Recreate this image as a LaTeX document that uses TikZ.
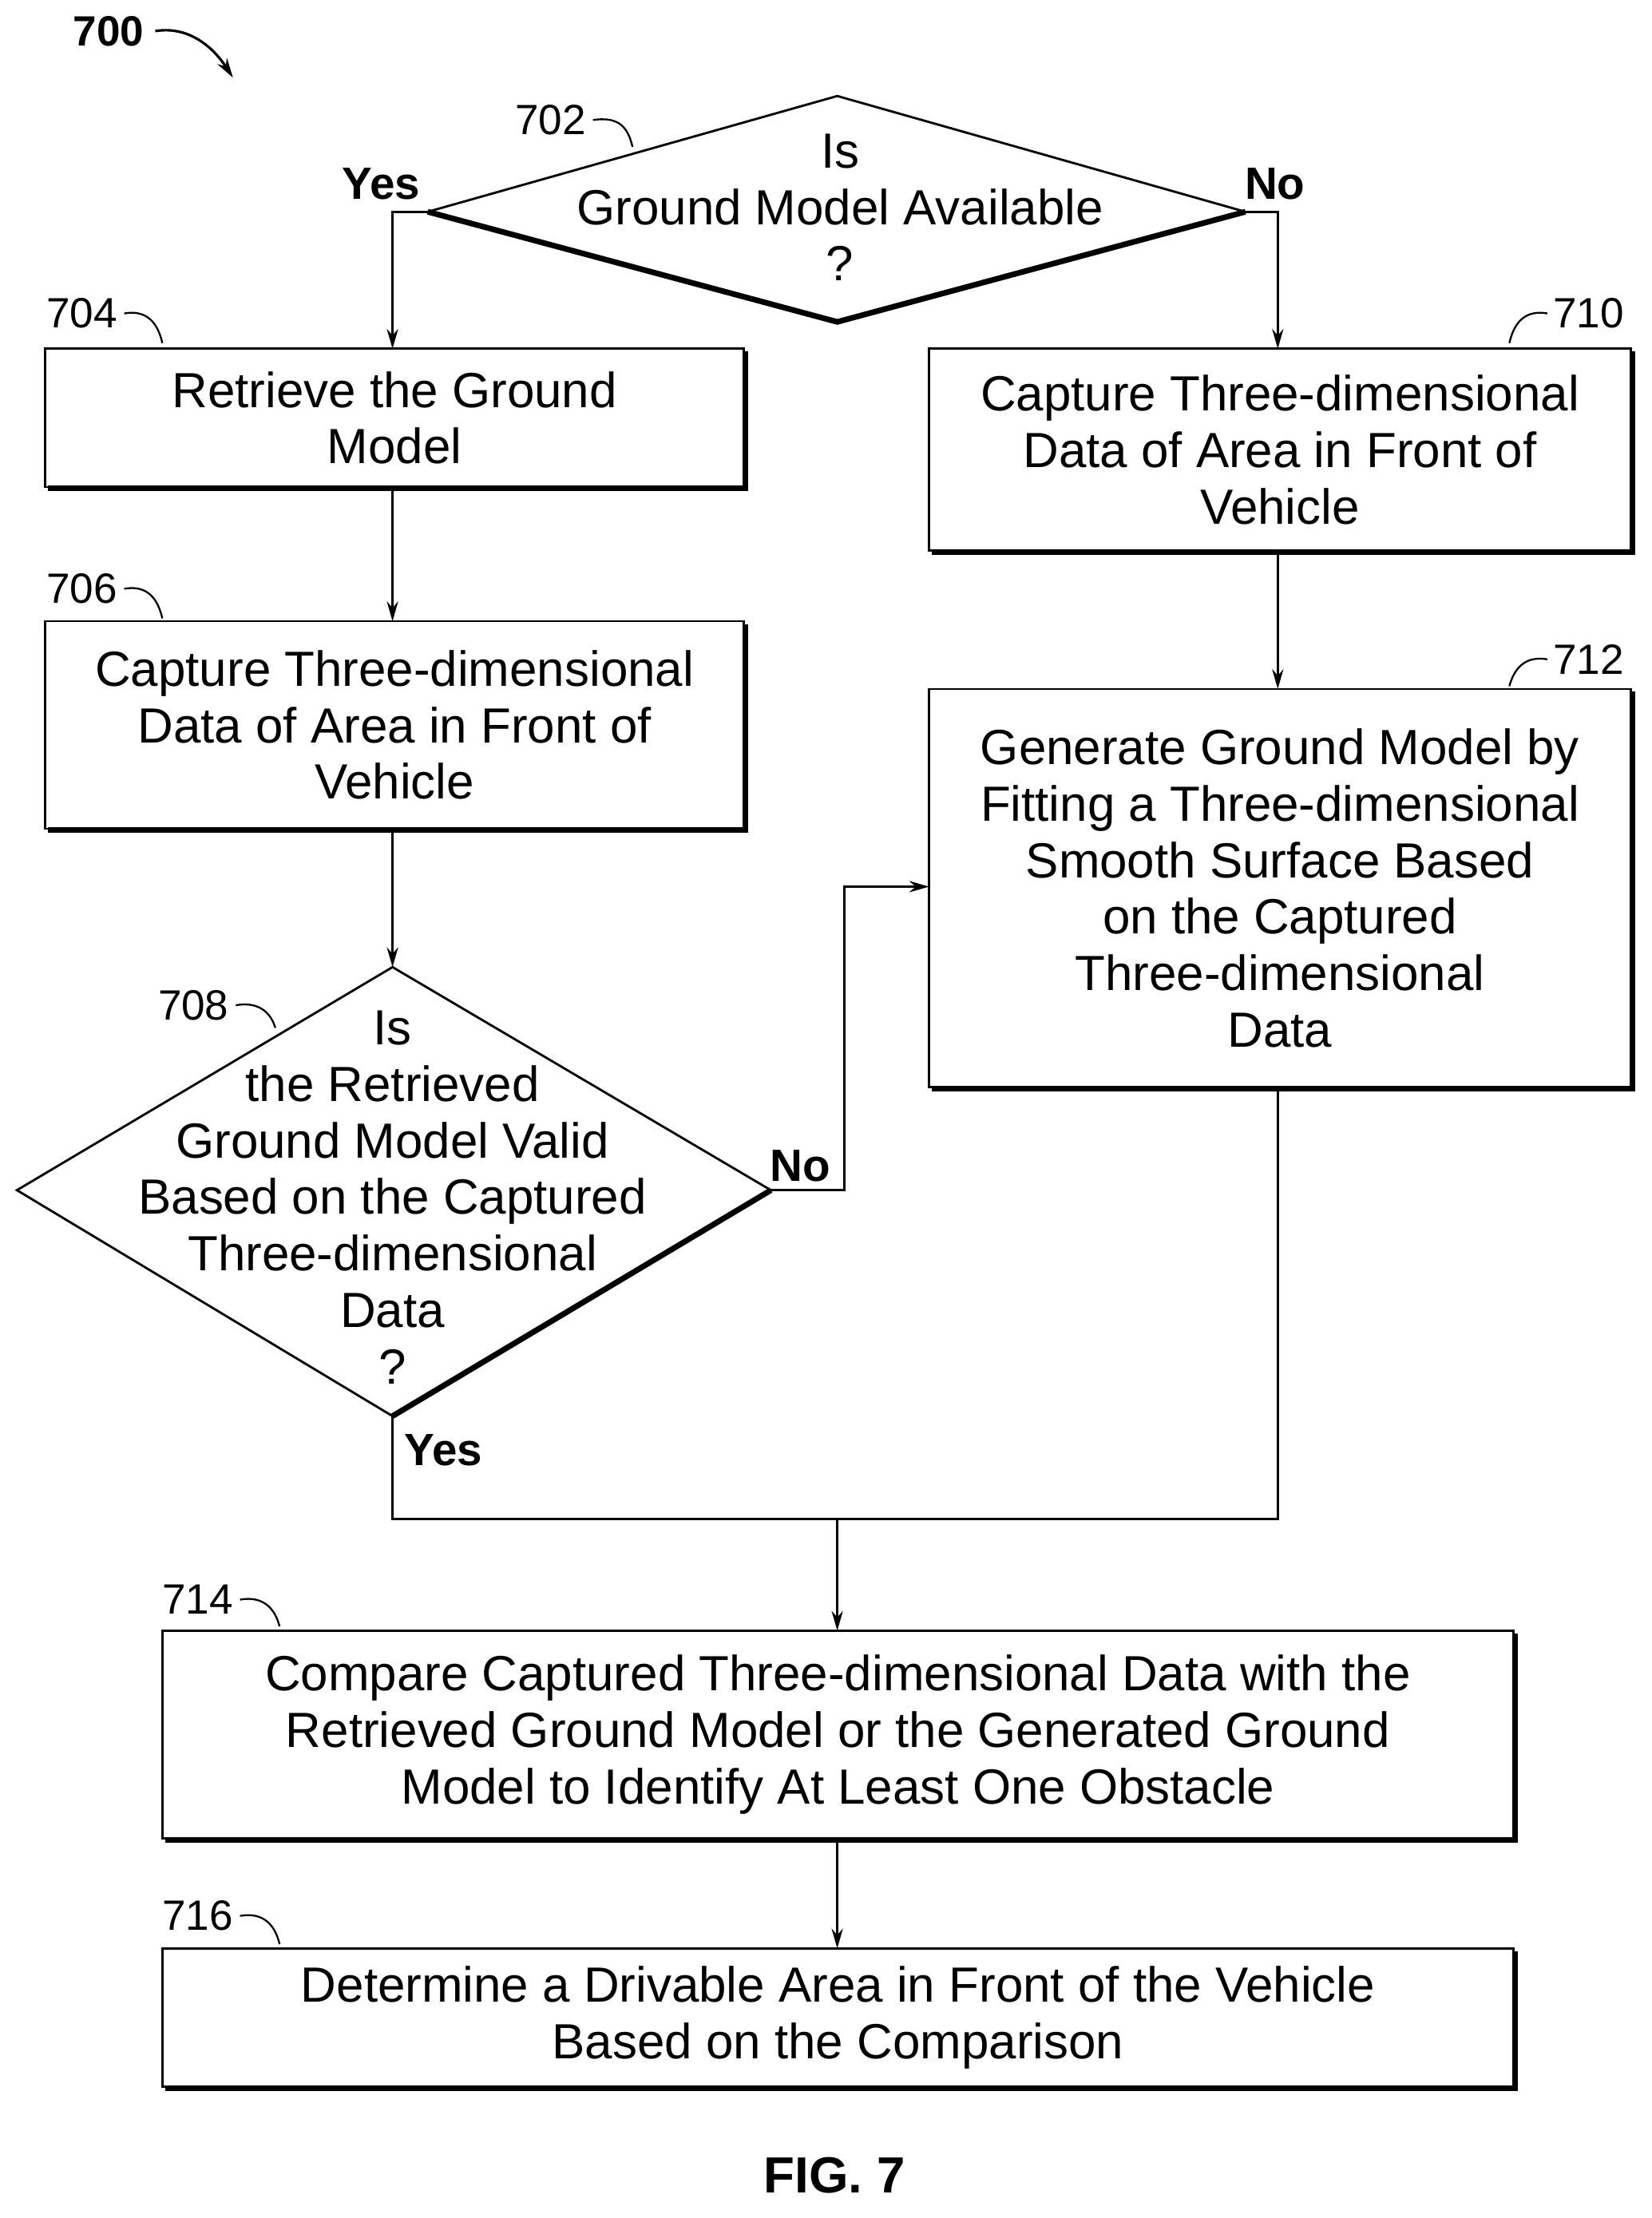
\documentclass[tikz,border=0pt]{standalone}
\usepackage{fontspec}
\setmainfont{Liberation Sans}
\usetikzlibrary{arrows.meta}
\begin{document}
\begin{tikzpicture}[x=1pt,y=-1pt,
  txt/.style={font=\fontsize{35}{40}\selectfont,align=center},
  lbl/.style={font=\fontsize{30}{34}\selectfont},
  yn/.style={font=\bfseries\fontsize{32}{36}\selectfont},
  ln/.style={line width=1.6pt},
  sh/.style={line width=4pt},
  arr/.style={ln,-{Stealth[length=14pt,width=8pt]}},
  sq/.style={line width=1.3pt}]
\useasboundingbox (0,0) rectangle (1170,1571);
% boxes
\newcommand{\mybox}[5]{%
  \draw[ln] (#1,#2) rectangle (#3,#4);
  \draw[sh] (#3+1,#2+2) -- (#3+1,#4+1) -- (#1+2,#4+1);
  \coordinate (#5) at ({(#1+#3)/2},{(#2+#4)/2});}
\mybox{32}{247}{527}{345}{b704}
\mybox{658}{247}{1155}{390}{b710}
\mybox{32}{440}{527}{587}{b706}
\mybox{658}{488}{1155}{770}{b712}
\mybox{115}{1155}{1072}{1302}{b714}
\mybox{115}{1380}{1072}{1478}{b716}
\node[txt] (t704) at (b704) {Retrieve the Ground\\Model};
\node[txt] (t710) at (b710) {Capture Three-dimensional\\Data of Area in Front of\\Vehicle};
\node[txt] (t706) at (b706) {Capture Three-dimensional\\Data of Area in Front of\\Vehicle};
\node[txt] (t712) at (b712) {Generate Ground Model by\\Fitting a Three-dimensional\\Smooth Surface Based\\on the Captured\\Three-dimensional\\Data};
\node[txt] (t714) at (b714) {Compare Captured Three-dimensional Data with the\\Retrieved Ground Model or the Generated Ground\\Model to Identify At Least One Obstacle};
\node[txt] (t716) at (b716) {Determine a Drivable Area in Front of the Vehicle\\Based on the Comparison};
% diamond 702
\coordinate (d2t) at (593,68); \coordinate (d2l) at (303,150);
\coordinate (d2r) at (882,150); \coordinate (d2b) at (593,228);
\draw[ln] (d2l) -- (d2t) -- (d2r);
\draw[sh] (d2r) -- (d2b) -- (d2l);
\node[txt] (t702) at (595,147) {Is\\Ground Model Available\\?};
% diamond 708
\coordinate (d8t) at (278,685); \coordinate (d8l) at (12,843);
\coordinate (d8r) at (546,843); \coordinate (d8b) at (278,1003);
\draw[ln] (d8b) -- (d8l) -- (d8t) -- (d8r);
\draw[sh] (d8r) -- (d8b);
\node[txt] (t708) at (278,848) {Is\\the Retrieved\\Ground Model Valid\\Based on the Captured\\Three-dimensional\\Data\\?};
% connectors
\coordinate (n704) at (278,247); \coordinate (n710) at (905,247);
\draw[arr] (d2l) -- (278,150) -- (n704);
\draw[arr] (d2r) -- (905,150) -- (n710);
\draw[arr] (278,345) -- (278,440);
\draw[arr] (905,390) -- (905,488);
\draw[arr] (278,587) -- (d8t);
\draw[arr] (d8r) -- (598,843) -- (598,628) -- (658,628);
\coordinate (j) at (593,1076);
\draw[ln] (d8b) -- (278,1076) -- (905,1076) -- (905,770);
\draw[arr] (j) -- (593,1155);
\draw[arr] (593,1302) -- (593,1380);
% yes/no
\node[yn] (y1) at (270,130) {Yes};
\node[yn] (n1) at (903,130) {No};
\node[yn] (n2) at (567,826) {No};
\node[yn] (y2) at (314,1027) {Yes};
% ref labels
\node[lbl] (l702) at (390,85) {702};
\draw[sq] (420,85) .. controls (440,82) and (445,92) .. (448,104);
\node[lbl] (l704) at (58,222) {704};
\draw[sq] (88,222) .. controls (105,219) and (112,230) .. (115,243);
\node[lbl] (l706) at (58,417) {706};
\draw[sq] (88,417) .. controls (105,414) and (112,425) .. (115,438);
\node[lbl] (l708) at (137,712) {708};
\draw[sq] (167,712) .. controls (184,709) and (192,718) .. (195,728);
\node[lbl] (l710) at (1125,222) {710};
\draw[sq] (1096,222) .. controls (1079,219) and (1072,230) .. (1069,243);
\node[lbl] (l712) at (1125,467) {712};
\draw[sq] (1096,467) .. controls (1079,464) and (1072,475) .. (1069,486);
\node[lbl] (l714) at (140,1133) {714};
\draw[sq] (170,1133) .. controls (187,1130) and (195,1140) .. (198,1152);
\node[lbl] (l716) at (140,1357) {716};
\draw[sq] (170,1357) .. controls (187,1354) and (195,1364) .. (198,1377);
% 700
\node[font=\bfseries\fontsize{30}{34}\selectfont] (l700) at (77,22) {700};
\draw[arr,line width=1.8pt] (110,22) .. controls (135,18) and (152,35) .. (165,55);
\node[font=\bfseries\fontsize{36}{40}\selectfont] (fig) at (591,1541) {FIG. 7};
\end{tikzpicture}
\end{document}
